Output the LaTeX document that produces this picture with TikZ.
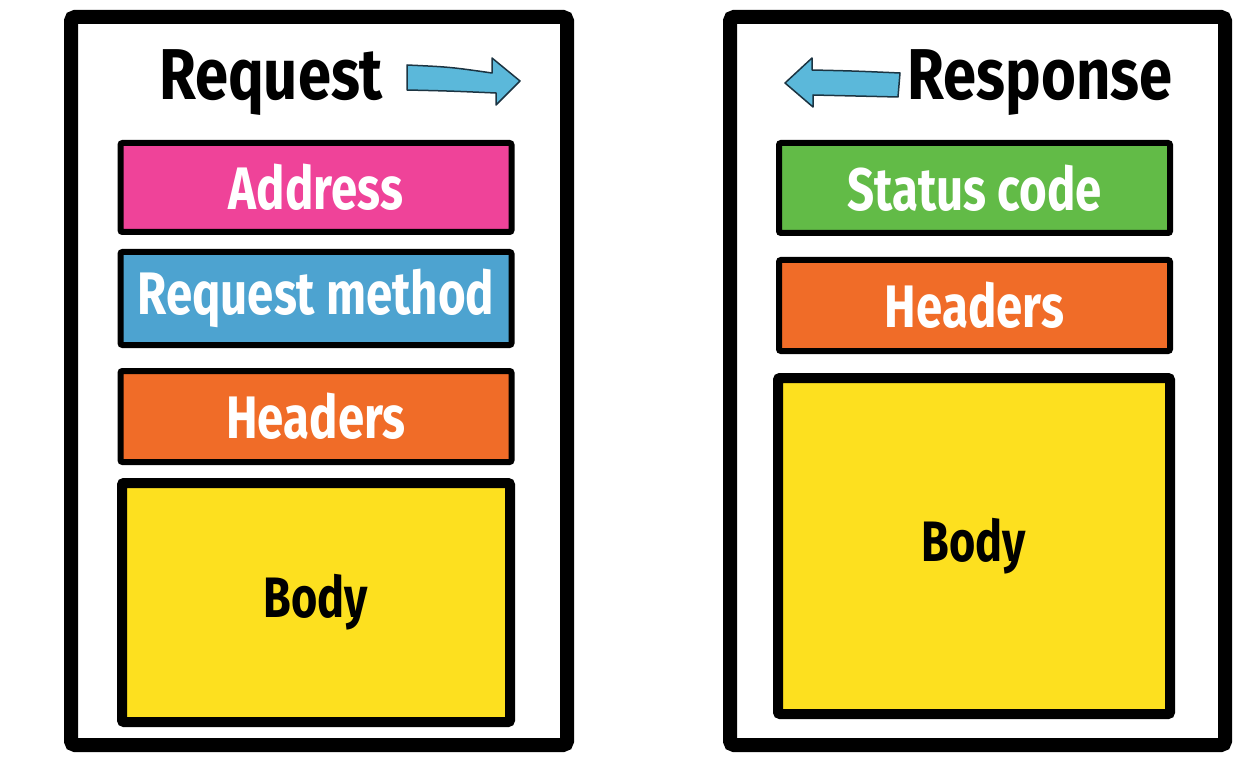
\documentclass[tikz,border=0pt]{standalone}
\usepackage{fontspec}
\setmainfont{Fira Sans}[FakeStretch=0.79]
\newfontfamily\titlefont{Fira Sans}[FakeStretch=0.83]
\usetikzlibrary{shapes.geometric, arrows}
\definecolor{addrpink}{HTML}{EF4399}
\definecolor{methodblue}{HTML}{4DA3D0}
\definecolor{headorange}{HTML}{F06C28}
\definecolor{bodyyellow}{HTML}{FDE01F}
\definecolor{statusgreen}{HTML}{62BB47}
\definecolor{arrowblue}{HTML}{5BB8DA}
\definecolor{arrowline}{HTML}{1C3442}
\tikzstyle{message} = [rectangle, draw=black, line width=14pt, rounded corners=4pt, minimum width=496pt, minimum height=728pt]
\tikzstyle{part} = [rectangle, draw=black, line width=6pt, rounded corners=2pt, minimum width=391pt, text=white, font=\bfseries\fontsize{60}{60}\selectfont]
\tikzstyle{bodypart} = [part, line width=10pt, fill=bodyyellow, text=black, font=\bfseries\fontsize{57}{57}\selectfont]
\tikzstyle{title} = [anchor=base, font=\titlefont\bfseries\fontsize{72}{72}\selectfont]
\tikzstyle{bigarrow} = [fill=arrowblue, draw=arrowline, line width=1.5pt, line join=round]

\begin{document}
\begin{tikzpicture}[x=1pt, y=-1pt]
        \useasboundingbox (0,0) rectangle (1247,759);
        % request side
        \node (req) [message] at (319,381) {};
        \node (reqtitle) [title] at (271,100) {Request};
        \node (addr) [part, fill=addrpink, minimum height=89pt] at (316,187.5) {Address};
        \node (method) [part, fill=methodblue, minimum height=93pt] at (316,298.5) {Request method};
        \node (reqhead) [part, fill=headorange, minimum height=91pt] at (316,416.5) {Headers};
        \node (reqbody) [bodypart, minimum width=388pt, minimum height=239pt] at (316,602.5) {Body};
        % response side
        \node (resp) [message, minimum width=495pt] at (977.5,381) {};
        \node (resptitle) [title] at (1040,100) {Response};
        \node (status) [part, fill=statusgreen, minimum height=90pt] at (974.5,188) {Status code};
        \node (resphead) [part, fill=headorange, minimum height=91pt] at (974.5,305.5) {Headers};
        \node (respbody) [bodypart, minimum width=392pt, minimum height=336pt] at (974,546) {Body};
        % arrows
        \draw [bigarrow] (407,65) .. controls (450,67) .. (492,73) -- (492,58) -- (520,81) -- (496,105) -- (496,93) .. controls (450,91) .. (407,90) -- cycle;
        \draw [bigarrow] (900,73) .. controls (855,71) .. (812,70) -- (812,58) -- (785,83) -- (813,107) -- (813,95) .. controls (855,96) .. (898,97) -- cycle;
    \end{tikzpicture}
\end{document}
